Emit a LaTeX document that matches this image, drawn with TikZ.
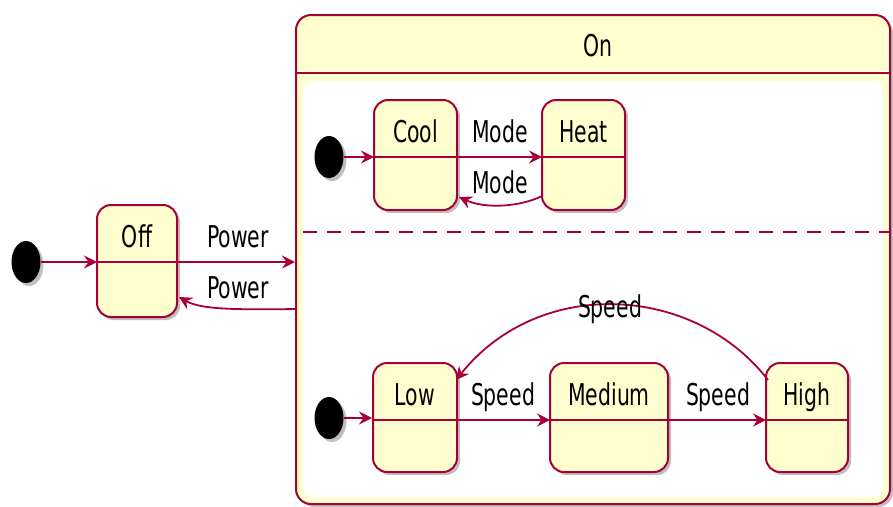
\documentclass[tikz,border=0pt]{standalone}
\usepackage{fontspec}
\setmainfont{DejaVu Sans}
\usetikzlibrary{arrows.meta,shapes.geometric,shadows,calc}
\definecolor{pborder}{HTML}{A80036}
\definecolor{pfill}{HTML}{FEFECE}
\newcommand{\tx}[1]{\scalebox{0.68}[1]{#1}}
\tikzset{
  x=1pt,y=-1pt,
  shad/.style={drop shadow={shadow xshift=3pt,shadow yshift=-3pt,opacity=0.25,fill=black}},
  sbox/.style={draw=pborder,fill=pfill,line width=2pt,rounded corners=14pt,inner sep=0pt,shad},
  stitle/.style={inner sep=0pt,anchor=base,font=\fontsize{30}{34}\selectfont},
  elabel/.style={inner sep=0pt,anchor=base,font=\fontsize{30}{34}\selectfont},
  sline/.style={draw=pborder,line width=2pt},
  arr/.style={draw=pborder,line width=1.8pt,-{Stealth[length=13pt,width=13pt,inset=4.5pt]}},
  startdot/.style={shape=ellipse,fill=black,minimum width=29pt,minimum height=42pt,inner sep=0pt,shad},
}
% \mkstate{name}{x1}{y1}{x2}{y2}{ydiv}{title}
\newcommand{\mkstate}[7]{%
  \node[sbox,minimum width=#4-#2,minimum height=#5-#3] (#1) at ({(#2+#4)/2},{(#3+#5)/2}) {};
  \coordinate (#1-dl) at (#2,#6);
  \coordinate (#1-dr) at (#4,#6);
  \draw[sline] (#1-dl) -- (#1-dr);
  \node[stitle] (#1-t) at ({(#2+#4)/2},{#6-15}) {\tx{#7}};
}
\begin{document}
\begin{tikzpicture}
\useasboundingbox (0,0) rectangle (893,506);
% composite state On
\node[draw=pborder,fill=pfill,line width=2pt,rounded corners=15pt,minimum width=594pt,minimum height=489pt,inner sep=0pt,shad] (on) at (593,259.5) {};
\coordinate (on-hl) at (296,73);
\coordinate (on-hr) at (890,73);
\draw[sline] (on-hl) -- (on-hr);
\node[stitle] (on-t) at (598,56) {\tx{On}};
\node[fill=white,rounded corners=10pt,minimum width=580pt,minimum height=416pt,inner sep=0pt] (oninner) at (593,289) {};
\coordinate (dashL) at (303,232);
\coordinate (dashR) at (890,232);
\draw[draw=pborder,line width=2pt,dash pattern=on 14pt off 10pt] (dashL) -- (dashR);

% Off
\node[startdot] (d0) at (26,262) {};
\mkstate{off}{97}{205}{177}{317}{262}{Off}

% upper region
\node[startdot] (d1) at (329,157) {};
\mkstate{cool}{374}{100}{457}{210}{157}{Cool}
\mkstate{heat}{542}{100}{625}{210}{157}{Heat}

% lower region
\node[startdot] (d2) at (329,418) {};
\mkstate{low}{373}{363}{457}{472}{420}{Low}
\mkstate{med}{550}{363}{668}{472}{420}{Medium}
\mkstate{high}{766}{363}{848}{472}{420}{High}

% connectors
\draw[arr] (d0) -- (off-dl);
\draw[arr] (off-dr) -- (off-dr -| on.west);
\coordinate (onout) at (296,309);
\coordinate (offin) at (179,297);
\draw[arr] (onout) .. controls (230,310) and (200,309) .. (offin);
\node[elabel] (p1) at (238,247) {\tx{Power}};
\node[elabel] (p2) at (238,298) {\tx{Power}};

\draw[arr] (d1) -- (cool-dl);
\draw[arr] (cool-dr) -- (heat-dl);
\coordinate (heatout) at (542,196);
\coordinate (coolin) at (459,197);
\draw[arr] (heatout) .. controls (520,207) and (485,209) .. (coolin);
\node[elabel] (m1) at (500,142) {\tx{Mode}};
\node[elabel] (m2) at (500,193) {\tx{Mode}};

\draw[arr] (d2) -- (low.west |- d2);
\draw[arr] (low-dr) -- (med-dl);
\draw[arr] (med-dr) -- (high-dl);
\coordinate (highout) at (768,380);
\coordinate (lowin) at (456,380);
\draw[arr] (highout) .. controls (695,285) and (540,275) .. (lowin);
\node[elabel] (s1) at (503,405) {\tx{Speed}};
\node[elabel] (s2) at (718,405) {\tx{Speed}};
\node[elabel] (s3) at (610,317) {\tx{Speed}};
\end{tikzpicture}
\end{document}
